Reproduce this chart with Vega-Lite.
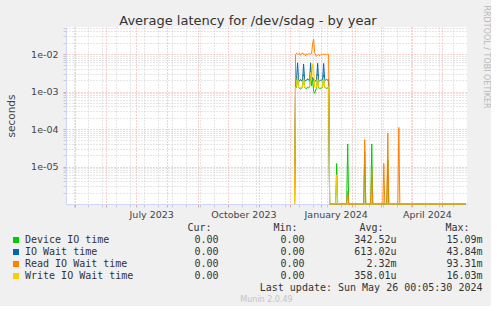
{
  "$schema": "https://vega.github.io/schema/vega-lite/v6.json",
  "background": "#f0f0f0",
  "padding": {"left": 6, "top": 5, "right": 2, "bottom": 2},
  "bounds": "flush",
  "spacing": 24,
  "config": {"view": {"stroke": null}, "font": "DejaVu Sans"},
  "datasets": {
    "lat": [
      {"date": "2023-12-06", "dev": 0, "iow": 0, "rd": 0, "wr": 0},
      {"date": "2023-12-07", "dev": 0.0012, "iow": 0.0019, "rd": 0.0095, "wr": 0.0013},
      {"date": "2023-12-08", "dev": 0.0013, "iow": 0.0022, "rd": 0.0105, "wr": 0.0014},
      {"date": "2023-12-09", "dev": 0.0028, "iow": 0.0058, "rd": 0.0100, "wr": 0.0028},
      {"date": "2023-12-10", "dev": 0.0013, "iow": 0.0020, "rd": 0.0098, "wr": 0.0013},
      {"date": "2023-12-11", "dev": 0.0012, "iow": 0.0019, "rd": 0.0105, "wr": 0.00125},
      {"date": "2023-12-12", "dev": 0.00115, "iow": 0.0021, "rd": 0.0092, "wr": 0.0013},
      {"date": "2023-12-13", "dev": 0.00125, "iow": 0.0019, "rd": 0.0100, "wr": 0.00135},
      {"date": "2023-12-14", "dev": 0.0013, "iow": 0.0020, "rd": 0.0108, "wr": 0.0013},
      {"date": "2023-12-15", "dev": 0.0029, "iow": 0.0054, "rd": 0.0096, "wr": 0.0025},
      {"date": "2023-12-16", "dev": 0.0013, "iow": 0.0021, "rd": 0.0100, "wr": 0.0013},
      {"date": "2023-12-17", "dev": 0.0012, "iow": 0.0019, "rd": 0.0090, "wr": 0.00125},
      {"date": "2023-12-18", "dev": 0.0012, "iow": 0.0020, "rd": 0.0102, "wr": 0.0013},
      {"date": "2023-12-19", "dev": 0.0013, "iow": 0.0022, "rd": 0.0095, "wr": 0.00135},
      {"date": "2023-12-20", "dev": 0.00125, "iow": 0.0020, "rd": 0.0100, "wr": 0.0013},
      {"date": "2023-12-21", "dev": 0.0013, "iow": 0.0019, "rd": 0.0105, "wr": 0.0014},
      {"date": "2023-12-22", "dev": 0.0030, "iow": 0.0058, "rd": 0.0098, "wr": 0.0032},
      {"date": "2023-12-23", "dev": 0.0014, "iow": 0.0021, "rd": 0.0102, "wr": 0.0020},
      {"date": "2023-12-24", "dev": 0.0022, "iow": 0.0024, "rd": 0.0190, "wr": 0.0055},
      {"date": "2023-12-25", "dev": 0.0010, "iow": 0.0020, "rd": 0.0250, "wr": 0.0045},
      {"date": "2023-12-26", "dev": 0.0009, "iow": 0.0018, "rd": 0.0110, "wr": 0.0013},
      {"date": "2023-12-27", "dev": 0.0011, "iow": 0.0019, "rd": 0.0092, "wr": 0.00125},
      {"date": "2023-12-28", "dev": 0.0012, "iow": 0.0021, "rd": 0.0088, "wr": 0.0013},
      {"date": "2023-12-29", "dev": 0.0029, "iow": 0.0057, "rd": 0.0095, "wr": 0.0026},
      {"date": "2023-12-30", "dev": 0.00125, "iow": 0.0020, "rd": 0.0098, "wr": 0.0013},
      {"date": "2023-12-31", "dev": 0.0012, "iow": 0.0019, "rd": 0.0090, "wr": 0.00125},
      {"date": "2024-01-01", "dev": 0.0012, "iow": 0.0020, "rd": 0.0096, "wr": 0.0013},
      {"date": "2024-01-02", "dev": 0.00125, "iow": 0.0020, "rd": 0.0100, "wr": 0.0013},
      {"date": "2024-01-03", "dev": 0.0013, "iow": 0.0021, "rd": 0.0094, "wr": 0.00135},
      {"date": "2024-01-04", "dev": 0.0028, "iow": 0.0056, "rd": 0.0100, "wr": 0.0024},
      {"date": "2024-01-05", "dev": 0.0013, "iow": 0.0021, "rd": 0.0096, "wr": 0.0013},
      {"date": "2024-01-06", "dev": 0.00125, "iow": 0.0020, "rd": 0.0100, "wr": 0.0013},
      {"date": "2024-01-07", "dev": 0.0012, "iow": 0.0021, "rd": 0.0094, "wr": 0.0013},
      {"date": "2024-01-08", "dev": 0.00125, "iow": 0.0020, "rd": 0.0100, "wr": 0.0013},
      {"date": "2024-01-09", "dev": 0.0013, "iow": 0.0021, "rd": 0.0098, "wr": 0.00135},
      {"date": "2024-01-10", "dev": 0, "iow": 0, "rd": 0, "wr": 0},
      {"date": "2024-01-16", "dev": 0, "iow": 0, "rd": 0, "wr": 0},
      {"date": "2024-01-17", "dev": 0.000012, "iow": 0, "rd": 0, "wr": 0.000006},
      {"date": "2024-01-18", "dev": 0, "iow": 0, "rd": 0, "wr": 0},
      {"date": "2024-01-27", "dev": 0, "iow": 0, "rd": 0, "wr": 0},
      {"date": "2024-01-28", "dev": 0.00004, "iow": 0, "rd": 0.0000022, "wr": 0},
      {"date": "2024-01-29", "dev": 0, "iow": 0, "rd": 0, "wr": 0},
      {"date": "2024-02-13", "dev": 0, "iow": 0, "rd": 0, "wr": 0},
      {"date": "2024-02-14", "dev": 0.000025, "iow": 0, "rd": 0.000052, "wr": 0},
      {"date": "2024-02-15", "dev": 0, "iow": 0, "rd": 0, "wr": 0},
      {"date": "2024-02-20", "dev": 0, "iow": 0, "rd": 0, "wr": 0},
      {"date": "2024-02-21", "dev": 0.00004, "iow": 0, "rd": 0.000008, "wr": 0},
      {"date": "2024-02-22", "dev": 0, "iow": 0, "rd": 0, "wr": 0},
      {"date": "2024-03-03", "dev": 0, "iow": 0, "rd": 0, "wr": 0},
      {"date": "2024-03-04", "dev": 0, "iow": 0, "rd": 0.000012, "wr": 0},
      {"date": "2024-03-05", "dev": 0, "iow": 0, "rd": 0, "wr": 0},
      {"date": "2024-03-07", "dev": 0, "iow": 0, "rd": 0, "wr": 0},
      {"date": "2024-03-08", "dev": 0.000015, "iow": 0, "rd": 0.000078, "wr": 0},
      {"date": "2024-03-09", "dev": 0, "iow": 0, "rd": 0, "wr": 0},
      {"date": "2024-03-18", "dev": 0, "iow": 0, "rd": 0, "wr": 0},
      {"date": "2024-03-19", "dev": 0, "iow": 0, "rd": 0.00011, "wr": 0},
      {"date": "2024-03-20", "dev": 0, "iow": 0, "rd": 0, "wr": 0},
      {"date": "2024-05-25", "dev": 0, "iow": 0, "rd": 0, "wr": 0}
    ],
    "leg": [
      {"name": "Device IO time", "cur": "0.00", "min": "0.00", "avg": "342.52u", "max": "15.09m"},
      {"name": "IO Wait time", "cur": "0.00", "min": "0.00", "avg": "613.02u", "max": "43.84m"},
      {"name": "Read IO Wait time", "cur": "0.00", "min": "0.00", "avg": "2.32m", "max": "93.31m"},
      {"name": "Write IO Wait time", "cur": "0.00", "min": "0.00", "avg": "358.01u", "max": "16.03m"}
    ],
    "hdr": [
      {"stat": "cur", "h": "Cur:"},
      {"stat": "min", "h": "Min:"},
      {"stat": "avg", "h": "Avg:"},
      {"stat": "max", "h": "Max:"}
    ],
    "upd": [{"t": "Last update: Sun May 26 00:05:30 2024"}]
  },
  "vconcat": [
    {
      "width": 401,
      "height": 177,
      "view": {"fill": "#ffffff", "stroke": null},
      "data": {"name": "lat"},
      "resolve": {"axis": {"x": "independent", "y": "independent"}},
      "layer": [
        {
          "mark": {"type": "line", "color": "#00cc00", "strokeWidth": 1, "invalid": "show"},
          "encoding": {
            "x": {
              "field": "date", "type": "temporal",
              "scale": {"type": "utc", "domain": [{"year": 2023, "month": 4, "date": 22, "utc": true}, {"year": 2024, "month": 5, "date": 26, "hours": 0, "minutes": 5, "utc": true}]},
              "axis": {
                "title": null,
                "values": [
                  {"year": 2023, "month": 5, "date": 1, "utc": true},
                  {"year": 2023, "month": 6, "date": 1, "utc": true},
                  {"year": 2023, "month": 7, "date": 1, "utc": true},
                  {"year": 2023, "month": 8, "date": 1, "utc": true},
                  {"year": 2023, "month": 9, "date": 1, "utc": true},
                  {"year": 2023, "month": 10, "date": 1, "utc": true},
                  {"year": 2023, "month": 11, "date": 1, "utc": true},
                  {"year": 2023, "month": 12, "date": 1, "utc": true},
                  {"year": 2024, "month": 1, "date": 1, "utc": true},
                  {"year": 2024, "month": 2, "date": 1, "utc": true},
                  {"year": 2024, "month": 3, "date": 1, "utc": true},
                  {"year": 2024, "month": 4, "date": 1, "utc": true},
                  {"year": 2024, "month": 5, "date": 1, "utc": true},
                  {"year": 2023, "month": 4, "date": 30, "utc": true},
                  {"year": 2023, "month": 5, "date": 14, "utc": true},
                  {"year": 2023, "month": 5, "date": 28, "utc": true},
                  {"year": 2023, "month": 6, "date": 11, "utc": true},
                  {"year": 2023, "month": 6, "date": 25, "utc": true},
                  {"year": 2023, "month": 7, "date": 9, "utc": true},
                  {"year": 2023, "month": 7, "date": 23, "utc": true},
                  {"year": 2023, "month": 8, "date": 6, "utc": true},
                  {"year": 2023, "month": 8, "date": 20, "utc": true},
                  {"year": 2023, "month": 9, "date": 3, "utc": true},
                  {"year": 2023, "month": 9, "date": 17, "utc": true},
                  {"year": 2023, "month": 10, "date": 15, "utc": true},
                  {"year": 2023, "month": 10, "date": 29, "utc": true},
                  {"year": 2023, "month": 11, "date": 12, "utc": true},
                  {"year": 2023, "month": 11, "date": 26, "utc": true},
                  {"year": 2023, "month": 12, "date": 10, "utc": true},
                  {"year": 2023, "month": 12, "date": 24, "utc": true},
                  {"year": 2024, "month": 1, "date": 7, "utc": true},
                  {"year": 2024, "month": 1, "date": 21, "utc": true},
                  {"year": 2024, "month": 2, "date": 4, "utc": true},
                  {"year": 2024, "month": 2, "date": 18, "utc": true},
                  {"year": 2024, "month": 3, "date": 3, "utc": true},
                  {"year": 2024, "month": 3, "date": 17, "utc": true},
                  {"year": 2024, "month": 3, "date": 31, "utc": true},
                  {"year": 2024, "month": 4, "date": 14, "utc": true},
                  {"year": 2024, "month": 4, "date": 28, "utc": true},
                  {"year": 2024, "month": 5, "date": 12, "utc": true},
                  {"year": 2023, "month": 7, "date": 16, "utc": true},
                  {"year": 2023, "month": 10, "date": 16, "utc": true},
                  {"year": 2024, "month": 1, "date": 16, "utc": true},
                  {"year": 2024, "month": 4, "date": 16, "utc": true}
                ],
                "labelExpr": "utcdate(datum.value) == 16 ? utcFormat(datum.value, '%B %Y') : ''",
                "labelOverlap": false,
                "labelFlush": false,
                "labelFont": "DejaVu Sans",
                "labelFontSize": 9.5,
                "labelColor": "#444444",
                "labelPadding": 2,
                "tickSize": 3,
                "tickColor": {"condition": {"test": "utcdate(datum.value) == 1", "value": "#f0a0a0"}, "value": "#cccccc"},
                "tickOpacity": {"condition": {"test": "utcdate(datum.value) == 16", "value": 0}, "value": 1},
                "grid": true,
                "gridColor": {"condition": {"test": "utcdate(datum.value) == 1", "value": "#eea0a0"}, "value": "#cccccc"},
                "gridOpacity": {"condition": {"test": "utcdate(datum.value) == 16", "value": 0}, "value": 1},
                "gridDash": [1, 2],
                "domainColor": "#cfd6f8"
              }
            },
            "y": {
              "field": "dev", "type": "quantitative",
              "scale": {"type": "log", "domain": [0.000001, 0.0525], "clamp": true, "nice": false},
              "axis": {
                "title": "seconds",
                "titleFont": "DejaVu Sans",
                "titleFontSize": 10.5,
                "titleFontWeight": "normal",
                "titleColor": "#444444",
                "titlePadding": 14,
                "values": [2e-6, 3e-6, 4e-6, 5e-6, 6e-6, 7e-6, 8e-6, 9e-6, 1e-5, 2e-5, 3e-5, 4e-5, 5e-5, 6e-5, 7e-5, 8e-5, 9e-5, 1e-4, 2e-4, 3e-4, 4e-4, 5e-4, 6e-4, 7e-4, 8e-4, 9e-4, 1e-3, 2e-3, 3e-3, 4e-3, 5e-3, 6e-3, 7e-3, 8e-3, 9e-3, 1e-2, 2e-2, 3e-2, 4e-2, 5e-2],
                "labelExpr": "abs(log(datum.value)/LN10 - round(log(datum.value)/LN10)) < 0.01 ? '1e-0' + (-round(log(datum.value)/LN10)) : ''",
                "labelOverlap": false,
                "labelFont": "DejaVu Sans",
                "labelFontSize": 9.5,
                "labelColor": "#444444",
                "labelPadding": 5,
                "tickSize": 3,
                "tickColor": {"condition": {"test": "abs(log(datum.value)/LN10 - round(log(datum.value)/LN10)) < 0.01", "value": "#f0a0a0"}, "value": "#cccccc"},
                "grid": true,
                "gridColor": {"condition": {"test": "abs(log(datum.value)/LN10 - round(log(datum.value)/LN10)) < 0.01", "value": "#eea0a0"}, "value": "#cccccc"},
                "gridDash": [1, 2],
                "domainColor": "#cfd6f8"
              }
            }
          }
        },
        {
          "mark": {"type": "line", "color": "#0066b3", "strokeWidth": 1, "invalid": "show"},
          "encoding": {
            "x": {"field": "date", "type": "temporal", "scale": {"type": "utc"}, "axis": null},
            "y": {"field": "iow", "type": "quantitative", "scale": {"type": "log", "clamp": true, "nice": false}, "axis": null}
          }
        },
        {
          "mark": {"type": "line", "color": "#ff8000", "strokeWidth": 1, "invalid": "show"},
          "encoding": {
            "x": {"field": "date", "type": "temporal", "scale": {"type": "utc"}, "axis": null},
            "y": {"field": "rd", "type": "quantitative", "scale": {"type": "log", "clamp": true, "nice": false}, "axis": null}
          }
        },
        {
          "mark": {"type": "line", "color": "#ffcc00", "strokeWidth": 1, "invalid": "show"},
          "encoding": {
            "x": {
              "field": "date", "type": "temporal", "scale": {"type": "utc"},
              "axis": {
                "orient": "top",
                "title": "Average latency for /dev/sdag - by year",
                "titleFont": "DejaVu Sans",
                "titleFontSize": 13,
                "titleFontWeight": "normal",
                "titleColor": "#333333",
                "titleX": 181.5,
                "titleY": -3,
                "titleAlign": "center",
                "titleBaseline": "alphabetic",
                "labels": false,
                "ticks": false,
                "domain": false,
                "grid": false
              }
            },
            "y": {
              "field": "wr", "type": "quantitative", "scale": {"type": "log", "clamp": true, "nice": false},
              "axis": {
                "orient": "right",
                "title": "RRDTOOL / TOBI OETIKER",
                "titleFont": "DejaVu Sans",
                "titleFontSize": 8,
                "titleFontWeight": "normal",
                "titleColor": "#b8b8b8",
                "titleAngle": 90,
                "titleX": 18,
                "titleY": -22,
                "titleAlign": "left",
                "titleBaseline": "middle",
                "labels": false,
                "ticks": false,
                "domain": false,
                "grid": false
              }
            }
          }
        }
      ]
    },
    {
      "width": 401,
      "height": 60,
      "title": {"text": "Munin 2.0.49", "orient": "bottom", "anchor": "middle", "font": "DejaVu Sans", "fontSize": 8, "fontWeight": "normal", "color": "#c4c4c4", "offset": 3},
      "layer": [
        {
          "data": {"name": "leg"},
          "mark": {"type": "point", "shape": "square", "filled": true, "size": 36, "opacity": 1, "xOffset": -122.5},
          "encoding": {
            "x": {"datum": "label", "type": "nominal", "scale": {"type": "point", "domain": ["label", "cur", "min", "avg", "max"], "range": [72.5, 416.5], "padding": 0}, "axis": null},
            "y": {"field": "name", "type": "nominal", "scale": {"type": "point", "domain": ["hdr", "Device IO time", "IO Wait time", "Read IO Wait time", "Write IO Wait time", "upd"], "padding": 0}, "axis": null},
            "color": {"field": "name", "type": "nominal", "scale": {"domain": ["Device IO time", "IO Wait time", "Read IO Wait time", "Write IO Wait time"], "range": ["#00cc00", "#0066b3", "#ff8000", "#ffcc00"]}, "legend": null}
          }
        },
        {
          "data": {"name": "leg"},
          "mark": {"type": "text", "align": "left", "baseline": "middle", "dx": -113.5, "font": "DejaVu Sans Mono", "fontSize": 10, "color": "#333333"},
          "encoding": {
            "x": {"datum": "label", "type": "nominal"},
            "y": {"field": "name", "type": "nominal"},
            "text": {"field": "name"}
          }
        },
        {
          "data": {"name": "leg"},
          "mark": {"type": "text", "align": "right", "baseline": "middle", "dx": -6, "font": "DejaVu Sans Mono", "fontSize": 10, "color": "#333333"},
          "encoding": {
            "x": {"datum": "cur", "type": "nominal"},
            "y": {"field": "name", "type": "nominal"},
            "text": {"field": "cur"}
          }
        },
        {
          "data": {"name": "leg"},
          "mark": {"type": "text", "align": "right", "baseline": "middle", "dx": -6, "font": "DejaVu Sans Mono", "fontSize": 10, "color": "#333333"},
          "encoding": {
            "x": {"datum": "min", "type": "nominal"},
            "y": {"field": "name", "type": "nominal"},
            "text": {"field": "min"}
          }
        },
        {
          "data": {"name": "leg"},
          "mark": {"type": "text", "align": "right", "baseline": "middle", "font": "DejaVu Sans Mono", "fontSize": 10, "color": "#333333"},
          "encoding": {
            "x": {"datum": "avg", "type": "nominal"},
            "y": {"field": "name", "type": "nominal"},
            "text": {"field": "avg"}
          }
        },
        {
          "data": {"name": "leg"},
          "mark": {"type": "text", "align": "right", "baseline": "middle", "font": "DejaVu Sans Mono", "fontSize": 10, "color": "#333333"},
          "encoding": {
            "x": {"datum": "max", "type": "nominal"},
            "y": {"field": "name", "type": "nominal"},
            "text": {"field": "max"}
          }
        },
        {
          "data": {"name": "hdr"},
          "mark": {"type": "text", "align": "right", "baseline": "middle", "dx": -13, "font": "DejaVu Sans Mono", "fontSize": 10, "color": "#333333"},
          "encoding": {
            "x": {"field": "stat", "type": "nominal"},
            "y": {"datum": "hdr", "type": "nominal"},
            "text": {"field": "h"}
          }
        },
        {
          "data": {"name": "upd"},
          "mark": {"type": "text", "align": "right", "baseline": "middle", "font": "DejaVu Sans Mono", "fontSize": 10, "color": "#333333"},
          "encoding": {
            "x": {"datum": "max", "type": "nominal"},
            "y": {"datum": "upd", "type": "nominal"},
            "text": {"field": "t"}
          }
        }
      ]
    }
  ]
}
